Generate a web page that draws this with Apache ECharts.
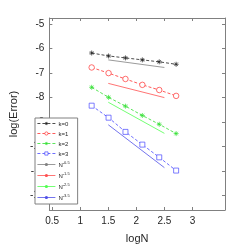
<!DOCTYPE html>
<html><head><meta charset="utf-8">
<script src="https://cdn.jsdelivr.net/npm/echarts@6/dist/echarts.min.js"></script>
<style>html,body{margin:0;padding:0;background:#fff}#c{width:249px;height:249px}</style>
</head><body><div id="c"></div>
<script>
const logN = [1.2041, 1.5051, 1.8062, 2.1072, 2.4082, 2.7093];
const err0 = [-6.19, -6.31, -6.39, -6.47, -6.55, -6.65];
const err1 = [-6.78, -7.01, -7.25, -7.49, -7.70, -7.94];
const err2 = [-7.59, -8.00, -8.36, -8.74, -9.10, -9.48];
const err3 = [-8.34, -8.83, -9.41, -9.93, -10.45, -10.99];
const refX = [1.5, 2.5];
const ref0 = [-6.47, -6.78];
const ref1 = [-7.43, -8.01];
const ref2 = [-8.20, -9.47];
const ref3 = [-9.12, -10.87];
const xTicks = [0.5, 1, 1.5, 2, 2.5, 3];
const yTicks = [-5, -6, -7, -8, -9, -10, -11, -12];
const kNames = ['k=0', 'k=1', 'k=2', 'k=3'];
const refNames = ['N^-0.5', 'N^-1.5', 'N^-2.5', 'N^-3.5'];

const star = 'path://M0,-10L0,10M-10,0L10,0M-7,-7L7,7M-7,7L7,-7';
const pair = (xs, ys) => xs.map((x, i) => [x, ys[i]]);
const axisCol = '#808080';

function xAx(pos, show) {
  return {
    type: 'value', position: pos, min: 0.45, max: 3.58,
    axisLine: { show: true, onZero: false, lineStyle: { color: axisCol, width: 1 } },
    axisTick: { show: true, inside: true, length: 3, customValues: xTicks, lineStyle: { color: axisCol } },
    axisLabel: { show: show, customValues: xTicks, color: '#262626', fontSize: 10, margin: 6, fontFamily: 'Liberation Sans' },
    splitLine: { show: false },
    name: show ? 'logN' : '', nameLocation: 'middle', nameGap: 23,
    nameTextStyle: { color: '#262626', fontSize: 11, fontFamily: 'Liberation Sans' }
  };
}
function yAx(pos, show) {
  return {
    type: 'value', position: pos, min: -12.6, max: -4.76,
    axisLine: { show: true, onZero: false, lineStyle: { color: axisCol, width: 1 } },
    axisTick: { show: true, inside: true, length: 3, customValues: yTicks, lineStyle: { color: axisCol } },
    axisLabel: { show: show, customValues: yTicks, color: '#262626', fontSize: 10, margin: 5, fontFamily: 'Liberation Sans' },
    splitLine: { show: false },
    name: show ? 'log(Error)' : '', nameLocation: 'middle', nameGap: 19,
    nameTextStyle: { color: '#262626', fontSize: 11, fontFamily: 'Liberation Sans' }
  };
}

const kCols = ['#202020', '#ff3030', '#30e030', '#4848ff'];
const refCols = ['#808080', '#ff5050', '#50ff50', '#5050e8'];
const kSym = [star, 'circle', star, 'rect'];
const kSize = [5, 5.5, 5, 5];
const kFill = ['#202020', '#ffffff', '#30e030', '#ffffff'];
const errs = [err0, err1, err2, err3];
const refs = [ref0, ref1, ref2, ref3];

const series = [];
kNames.forEach((n, i) => {
  series.push({
    name: n, type: 'line', data: pair(logN, errs[i]),
    symbol: kSym[i], symbolSize: kSize[i], showSymbol: true,
    lineStyle: { color: kCols[i], width: 0.8, type: [3, 2] },
    itemStyle: { color: kFill[i], borderColor: kCols[i], borderWidth: 0.7 },
    emphasis: { disabled: true }, animation: false
  });
});
refNames.forEach((n, i) => {
  series.push({
    name: n, type: 'line', data: pair(refX, refs[i]), symbol: 'none',
    lineStyle: { color: refCols[i], width: 0.8 },
    itemStyle: { color: refCols[i] },
    emphasis: { disabled: true }, animation: false
  });
});

const chart = echarts.init(document.getElementById('c'), null, { renderer: 'canvas' });
chart.setOption({
  animation: false,
  backgroundColor: '#fff',
  grid: { left: 32, right: 24, top: 18, bottom: 37, containLabel: false },
  xAxis: [xAx('bottom', true), xAx('top', false)],
  yAxis: [yAx('left', true), yAx('right', false)],
  legend: {
    orient: 'vertical', left: 35, top: 118,
    itemWidth: 18, itemHeight: 4, itemGap: 4,
    padding: [3, 8, 3, 2],
    backgroundColor: '#fff', borderColor: '#808080', borderWidth: 1, borderRadius: 0,
    selectedMode: false,
    lineStyle: { width: 0.8 },
    itemStyle: { borderWidth: 0.7 },
    data: kNames.concat(refNames),
    formatter: function (name) {
      if (name.indexOf('N^') === 0) return '{b|N}{s|' + name.slice(2) + '}';
      return '{b|' + name + '}';
    },
    textStyle: {
      fontSize: 6, color: '#262626', fontFamily: 'Liberation Sans', padding: [0, 0, 0, -2],
      rich: {
        b: { fontSize: 6, color: '#262626', fontFamily: 'Liberation Sans', verticalAlign: 'bottom', lineHeight: 7 },
        s: { fontSize: 4, color: '#262626', fontFamily: 'Liberation Sans', verticalAlign: 'bottom', lineHeight: 6, padding: [0, 0, 3, 0] }
      }
    }
  },
  series: series
});
</script></body></html>
